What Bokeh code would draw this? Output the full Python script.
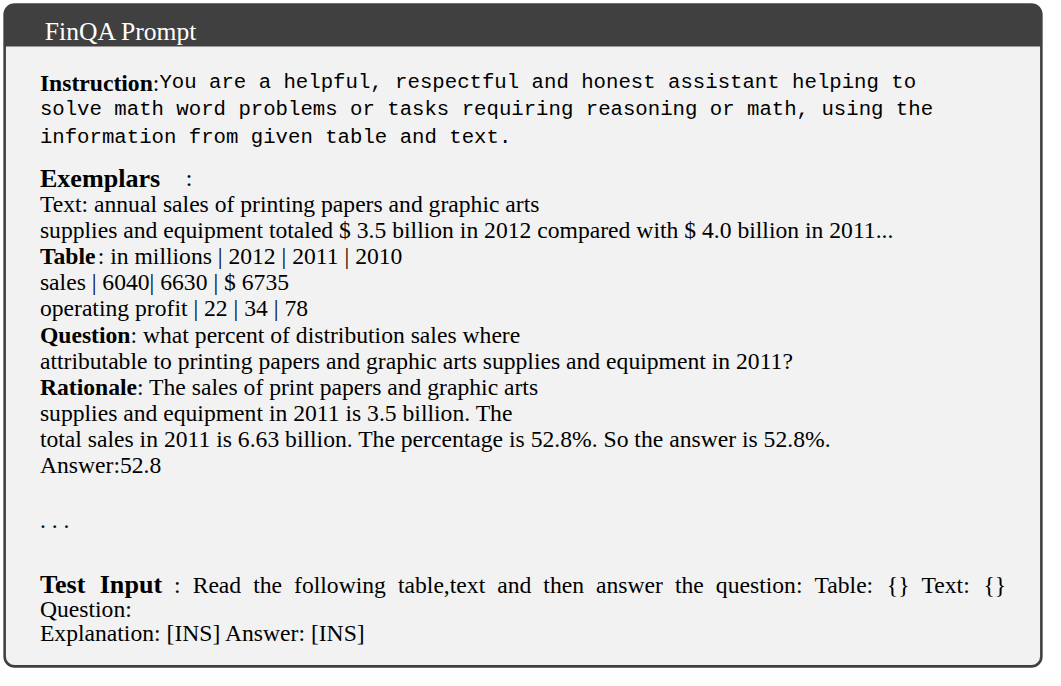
from bokeh.plotting import figure
from bokeh.models import Range1d
from bokeh.core.properties import value
from bokeh.embed import file_html
from bokeh.resources import INLINE

SERIF = "Liberation Serif"
MONO = "Liberation Mono"

# ---- content -------------------------------------------------------------
title = "FinQA Prompt"
instruction_label = "Instruction"
instruction_lines = [
    "You are a helpful, respectful and honest assistant helping to",
    "solve math word problems or tasks requiring reasoning or math, using the",
    "information from given table and text.",
]
exemplars_label = "Exemplars"
exemplar_labels = ["", "", "Table", "", "", "Question", "", "Rationale", "", "", ""]
exemplar_texts = [
    "Text: annual sales of printing papers and graphic arts",
    "supplies and equipment totaled $ 3.5 billion in 2012 compared with $ 4.0 billion in 2011...",
    ": in millions | 2012 | 2011 | 2010",
    "sales | 6040| 6630 | $ 6735",
    "operating profit | 22 | 34 | 78",
    ": what percent of distribution sales where",
    "attributable to printing papers and graphic arts supplies and equipment in 2011?",
    ": The sales of print papers and graphic arts",
    "supplies and equipment in 2011 is 3.5 billion. The",
    "total sales in 2011 is 6.63 billion. The percentage is 52.8%. So the answer is 52.8%.",
    "Answer:52.8",
]
ellipsis_text = ". . ."
test_label = "Test Input"
test_text = "Read the following table,text and then answer the question: Table: {} Text: {}"
test_lines = ["Question:", "Explanation: [INS] Answer: [INS]"]

# ---- font metrics (Times-compatible) --------------------------------------
REG = {" ": 250, "!": 333, "$": 500, "%": 833, "(": 333, ")": 333, ",": 250, "-": 333,
       ".": 250, "/": 278, ":": 278, ";": 278, "?": 444, "[": 333, "]": 333, "{": 480,
       "|": 200, "}": 480,
       "A": 722, "B": 667, "C": 667, "D": 722, "E": 611, "F": 556, "G": 722, "H": 722,
       "I": 333, "J": 389, "K": 722, "L": 611, "M": 889, "N": 722, "O": 722, "P": 556,
       "Q": 722, "R": 667, "S": 556, "T": 611, "U": 722, "V": 722, "W": 944, "X": 722,
       "Y": 722, "Z": 611,
       "a": 444, "b": 500, "c": 444, "d": 500, "e": 444, "f": 333, "g": 500, "h": 500,
       "i": 278, "j": 278, "k": 500, "l": 278, "m": 778, "n": 500, "o": 500, "p": 500,
       "q": 500, "r": 333, "s": 389, "t": 278, "u": 500, "v": 500, "w": 722, "x": 500,
       "y": 500, "z": 444}
BOLD = {" ": 250, ":": 333, "A": 722, "E": 667, "I": 389, "Q": 778, "R": 722, "T": 667,
        "a": 500, "b": 556, "c": 444, "d": 556, "e": 444, "i": 278, "l": 278, "m": 833,
        "n": 556, "o": 500, "p": 556, "r": 444, "s": 389, "t": 333, "u": 556, "x": 500}


def width(s, size, bold=False):
    table = BOLD if bold else REG
    return sum(table.get(ch, REG.get(ch, 500)) for ch in s) * size / 1000.0


# ---- layout (reference pixel coordinates, 1061 x 686) ---------------------
REF_W, REF_H = 1061, 686
W, H = 1045, 670
SCALE = W / REF_W

X0 = 40
FS = 24
BIG_FS = 26.5
MONO_FS = 21
TITLE_FS = 26
RIGHT = 1021
LINE = 26.8

items = []  # (x, y, text, font, style, size, color)


def add(x, y, text, font=SERIF, style="normal", size=FS, color="black"):
    items.append((x, y, text, font, style, size, color))


add(45, 32, title, size=TITLE_FS, color="white")

# instruction block
y_instr = [84, 112, 140]
lw = width(instruction_label, FS, True)
add(X0, y_instr[0], instruction_label, style="bold")
add(X0 + lw, y_instr[0], ":")
add(X0 + lw + width(":", FS), y_instr[0], instruction_lines[0], font=MONO, size=MONO_FS)
for yy, line in zip(y_instr[1:], instruction_lines[1:]):
    add(X0, yy, line, font=MONO, size=MONO_FS)

# exemplars
add(X0, 182, exemplars_label, style="bold", size=BIG_FS)
add(X0 + width(exemplars_label, BIG_FS, True) + 26, 182, ":")
y = 208
for lab, txt in zip(exemplar_labels, exemplar_texts):
    x = X0
    if lab:
        add(x, y, lab, style="bold")
        x += width(lab, FS, True)
    add(x, y, txt)
    y += LINE

add(X0, 532, ellipsis_text)

# justified test input line
words = ([(w, True) for w in test_label.split()] + [(":", False)]
         + [(w, False) for w in test_text.split()])
sizes = [BIG_FS if b else FS for w, b in words]
natural = sum(width(w, s, b) for (w, b), s in zip(words, sizes))
gap = (RIGHT - X0 - natural) / (len(words) - 1)
x = X0
for (w, b), s in zip(words, sizes):
    add(x, 598, w, style="bold" if b else "normal", size=s)
    x += width(w, s, b) + gap
for yy, line in zip([623, 648], test_lines):
    add(X0, yy, line)

# ---- figure ---------------------------------------------------------------
p = figure(width=W, height=H, x_range=Range1d(0, REF_W), y_range=Range1d(REF_H, 0),
           toolbar_location=None, output_backend="svg", min_border=0,
           x_axis_type=None, y_axis_type=None)
p.grid.visible = False
p.outline_line_color = None
p.background_fill_color = "white"
p.border_fill_color = "white"

L, R, T, B = 4.2, 1056.8, 4.2, 681.8
HEADER_BOTTOM = 47
p.quad(left=[L], right=[R], top=[T], bottom=[B], fill_color="#f2f2f2", line_color=None,
       border_radius=10)
p.quad(left=[L], right=[R], top=[T], bottom=[HEADER_BOTTOM], fill_color="#404040",
       line_color=None, border_radius=(10, 10, 0, 0))
p.quad(left=[L], right=[R], top=[T], bottom=[B], fill_color=None, line_color="#404040",
       line_width=2.6, border_radius=10)

for (x, yy, text, font, style, size, color) in items:
    p.text(x=[x], y=[yy], text=[text], text_font=value(font), text_font_style=style,
           text_font_size=value(f"{size * SCALE:.2f}px"), text_color=color,
           text_baseline="alphabetic", text_align="left")

open("out.html", "w").write(file_html(p, INLINE))
